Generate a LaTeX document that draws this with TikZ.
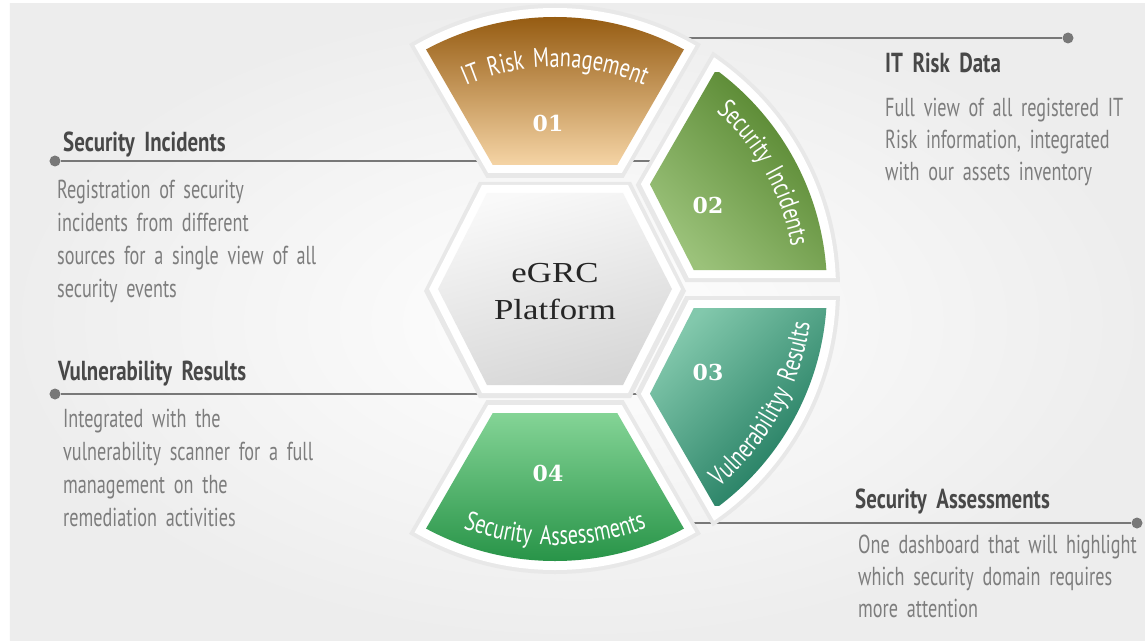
\documentclass[tikz,border=0pt]{standalone}
\usepackage{fontspec}
\usetikzlibrary{calc,decorations.text}
\newfontfamily\agency[FakeStretch=0.7, WordSpace=1.8]{PT Sans}
\newfontfamily\agencyhead[FakeStretch=0.76, WordSpace=1.8]{PT Sans}
\newfontfamily\agencywide[FakeStretch=0.75, WordSpace=1.6]{PT Sans}
\newfontfamily\hexfont[FakeStretch=1.2]{Liberation Serif}
\newfontfamily\numfont{DejaVu Serif}
\newcommand\labelfont{\agencywide\fontsize{27}{27}\selectfont}

\definecolor{headgray}{RGB}{72,72,72}
\definecolor{bodygray}{RGB}{125,125,125}
\definecolor{linegray}{RGB}{120,120,120}
\definecolor{orangetop}{RGB}{150,92,18}
\definecolor{orangemid}{RGB}{221,145,38}
\definecolor{orangebot}{RGB}{245,212,165}
\definecolor{olivedark}{RGB}{82,130,42}
\definecolor{olivemid}{RGB}{98,148,58}
\definecolor{olivelight}{RGB}{155,194,122}
\definecolor{tealdark}{RGB}{26,118,90}
\definecolor{tealmid}{RGB}{48,145,112}
\definecolor{teallight}{RGB}{130,200,172}
\definecolor{greendark}{RGB}{40,148,72}
\definecolor{greenlight}{RGB}{132,212,150}

\tikzset{
  leader/.style={linegray, line width=1.5pt},
  leaderdot/.style={circle, fill=linegray, inner sep=0pt, minimum size=11pt},
  headtext/.style={anchor=base west, inner sep=0pt, text=headgray, font=\agencyhead\bfseries\fontsize{27.5}{30}\selectfont},
  bodytext/.style={anchor=base west, inner sep=0pt, text=bodygray, font=\agency\fontsize{26}{30}\selectfont},
  numtext/.style={text=white, font=\numfont\bfseries\fontsize{22}{22}\selectfont},
  segtop/.style={top color=orangetop, middle color=orangemid, bottom color=orangebot},
  segur/.style={top color=olivedark, middle color=olivemid, bottom color=olivelight, shading angle=-45},
  seglr/.style={top color=teallight, middle color=tealmid, bottom color=tealdark, shading angle=45},
  segbot/.style={top color=greenlight, bottom color=greendark},
}

% corners of one ring piece: vertices, ray angles, edge offset, gap offset
\newcommand\segpts[6]{%
  \coordinate (la) at ($(#1)+(#3-90:#6)$);
  \coordinate (lb) at ($(la)+(#3:50)$);
  \coordinate (ra) at ($(#2)+(#4+90:#6)$);
  \coordinate (rb) at ($(ra)+(#4:50)$);
  \coordinate (ea) at ($(#1)!#5pt!90:(#2)$);
  \coordinate (eb) at ($(#2)!#5pt!-90:(#1)$);
  \coordinate (ia) at (intersection of la--lb and ea--eb);
  \coordinate (ib) at (intersection of ra--rb and ea--eb);
  \coordinate (oa) at ($(ia)+(#3:240)$);
  \coordinate (ob) at ($(ib)+(#4:240)$);
}

\begin{document}
\begin{tikzpicture}[x=1pt,y=1pt]

\useasboundingbox (-555,-351) rectangle (590,289);
\fill[white] (-555,-351) rectangle (590,289);
\shade[inner color=white, outer color=gray!14] (-545,-351) rectangle (590,285);

% leader lines
\node[leaderdot] (riskdot) at (513,251) {};
\coordinate (riskend) at (100,251);
\draw[leader] (riskend) -- (riskdot);

\node[leaderdot] (incdot) at (-500,128) {};
\coordinate (incend) at (100,128);
\draw[leader] (incdot) -- (incend);

\node[leaderdot] (vulndot) at (-500,-105) {};
\coordinate (vulnend) at (95,-105);
\draw[leader] (vulndot) -- (vulnend);

\node[leaderdot] (assdot) at (582,-234) {};
\coordinate (assend) at (100,-234);
\draw[leader] (assend) -- (assdot);

% hexagon
\coordinate (hL) at (-117,0);
\coordinate (hTL) at (-68,96);
\coordinate (hTR) at (68,96);
\coordinate (hR) at (117,0);
\coordinate (hBR) at (68,-96);
\coordinate (hBL) at (-68,-96);

\fill[black!9] (-131,-2) -- (-76,107) -- (76,107) -- (131,-2) -- (76,-109) -- (-76,-109) -- cycle;
\fill[white] (-126,0) -- (-73,104) -- (73,104) -- (126,0) -- (73,-104) -- (-73,-104) -- cycle;
\shade[top color=gray!5, bottom color=gray!32, shading angle=15] (hL) -- (hTL) -- (hTR) -- (hR) -- (hBR) -- (hBL) -- cycle;

% ring pieces
\foreach \va/\vb/\ta/\tb in {hTL/hTR/120/60, hTR/hR/60/0, hR/hBR/0/-60, hBR/hBL/-60/-120}{
  \segpts{\va}{\vb}{\ta}{\tb}{15}{7}
  \begin{scope}
    \clip (0,0) circle (285);
    \fill[black!9] (ia) -- (ib) -- (ob) -- (oa) -- cycle;
  \end{scope}
}
\foreach \va/\vb/\ta/\tb in {hTL/hTR/120/60, hTR/hR/60/0, hR/hBR/0/-60, hBR/hBL/-60/-120}{
  \segpts{\va}{\vb}{\ta}{\tb}{20}{11}
  \begin{scope}
    \clip (0,0) circle (281);
    \fill[white] (ia) -- (ib) -- (ob) -- (oa) -- cycle;
  \end{scope}
}
\foreach \va/\vb/\ta/\tb/\sty/\xa/\ya/\xb/\yb in {hTL/hTR/120/60/segtop/-136/124/136/272,
    hTR/hR/60/0/segur/95/18/272/216, hR/hBR/0/-60/seglr/95/-216/272/-18,
    hBR/hBL/-60/-120/segbot/-136/-272/136/-124}{
  \segpts{\va}{\vb}{\ta}{\tb}{28}{19}
  \begin{scope}
    \clip (0,0) circle (272);
    \clip (ia) -- (ib) -- (ob) -- (oa) -- cycle;
    \shade[\sty] (\xa,\ya) rectangle (\xb,\yb);
  \end{scope}
}

% labels on the ring
\path[decorate, decoration={text along path, text align=center, text color=white,
  text={|\labelfont|IT Risk Management}}] (135:222) arc[start angle=135, end angle=45, radius=222];
\path[decorate, decoration={text along path, text align=center, text color=white,
  text={|\labelfont|Security Incidents}}] (75:240) arc[start angle=75, end angle=-17, radius=240];
\path[decorate, decoration={text along path, text align=center, text color=white,
  text={|\labelfont|Vulnerabilityy Results}}] (-75:257) arc[start angle=-75, end angle=17, radius=257];
\path[decorate, decoration={text along path, text align=center, text color=white,
  text={|\labelfont|Security Assessments}}] (-135:256) arc[start angle=-135, end angle=-45, radius=256];

\node[numtext] (num1) at (-7,166) {01};
\node[numtext] (num2) at (153,84) {02};
\node[numtext] (num3) at (153,-83) {03};
\node[numtext] (num4) at (-7,-184) {04};

\node[align=center, text=black!85, font=\hexfont\fontsize{29}{37}\selectfont] (platform) at (0,-3) {eGRC\\Platform};

% side texts
\node[headtext] (riskhead) at (330,216) {IT Risk Data};
\foreach \t [count=\i] in {Full view of all registered IT, {Risk information, integrated}, with our assets inventory}
  \node[bodytext] (riskline\i) at (330,204-32*\i) {\t};

\node[headtext] (inchead) at (-492,137) {Security Incidents};
\foreach \t [count=\i] in {Registration of security, incidents from different, sources for a single view of all, security events}
  \node[bodytext] (incline\i) at (-498,124-33*\i) {\t};

\node[headtext] (vulnhead) at (-497,-91) {Vulnerability Results};
\foreach \t [count=\i] in {Integrated with the, vulnerability scanner for a full, management on the, remediation activities}
  \node[bodytext] (vulnline\i) at (-492,-105-33*\i) {\t};

\node[headtext] (asshead) at (300,-219) {Security Assessments};
\foreach \t [count=\i] in {One dashboard that will highlight, which security domain requires, more attention}
  \node[bodytext] (assline\i) at (303,-232-32*\i) {\t};

\end{tikzpicture}
\end{document}
